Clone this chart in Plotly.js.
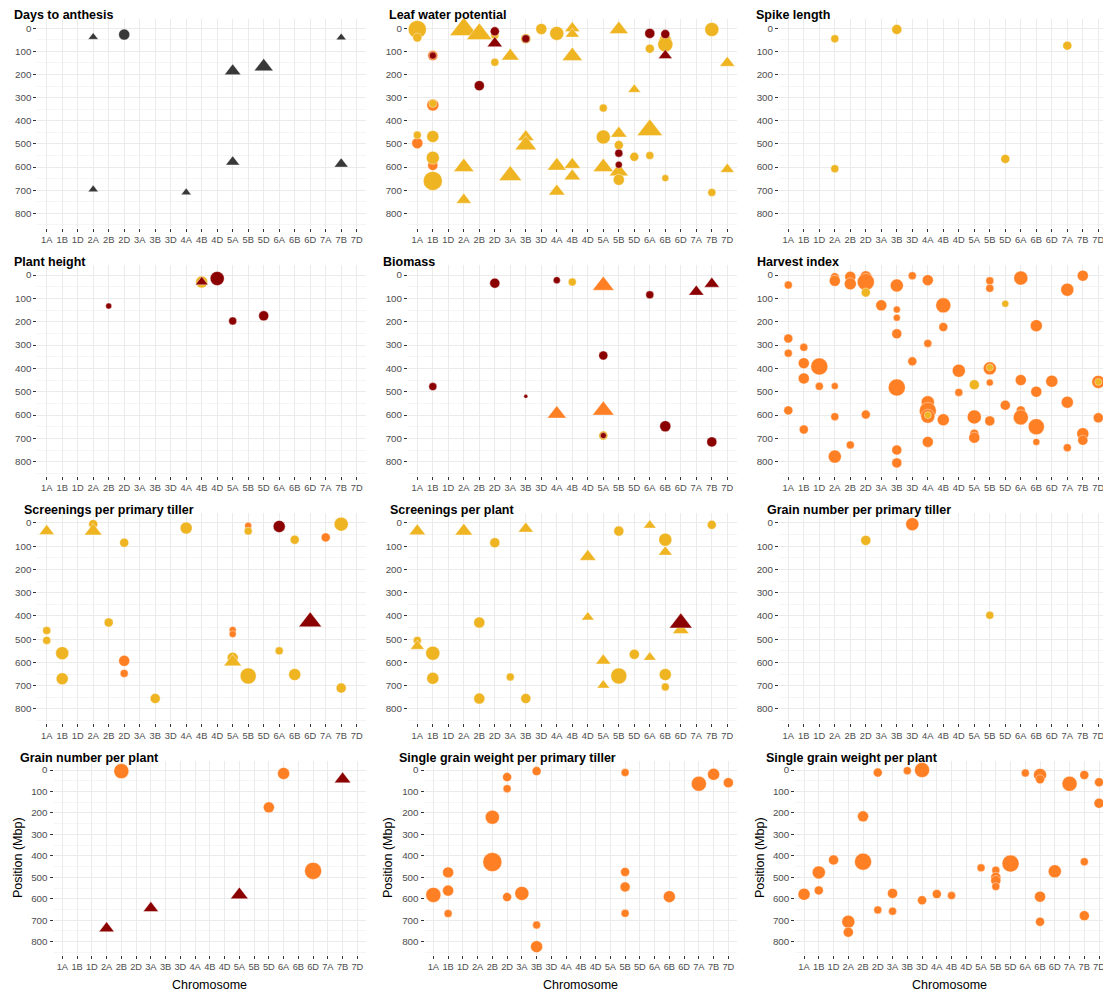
<!DOCTYPE html>
<html><head><meta charset="utf-8">
<script src="https://cdn.plot.ly/plotly-3.0.1.min.js"></script>
<style>html,body{margin:0;padding:0;background:#fff}#chart{width:1103px;height:991px}</style>
</head><body><div id="chart"></div>
<script>
// ---------- DATA ----------
const chromosomes = ['1A','1B','1D','2A','2B','2D','3A','3B','3D','4A','4B','4D','5A','5B','5D','6A','6B','6D','7A','7B','7D'];
const yTickValues = [0,100,200,300,400,500,600,700,800];
const panelTitles = ['Days to anthesis','Leaf water potential','Spike length','Plant height','Biomass','Harvest index',
  'Screenings per primary tiller','Screenings per plant','Grain number per primary tiller',
  'Grain number per plant','Single grain weight per primary tiller','Single grain weight per plant'];
const xAxisTitle = 'Chromosome';
const yAxisTitle = 'Position (Mbp)';
// record: [chromosome, position (Mbp), score, group, type]   group: G/Y/O/R, type: c = circle, t = triangle
const daysToAnthesis = [
 ['2A',38,8,'G','t'],['2D',27,11,'G','c'],['7B',40,8,'G','t'],['5A',185,13,'G','t'],['5D',166,15,'G','t'],
 ['5A',578,11,'G','t'],['7B',587,11,'G','t'],['2A',697,8,'G','t'],['4A',710,8,'G','t']];
const leafWaterPotential = [
 ['1A',5,18,'Y','c'],['1A',40,9,'Y','c'],['1A',462,8,'Y','c'],['1A',497,11,'O','c'],
 ['1B',118,10,'O','c'],['1B',118,7,'R','c'],['1B',332,12,'O','c'],['1B',325,8,'Y','c'],['1B',468,12,'Y','c'],
 ['1B',560,13,'Y','c'],['1B',593,10,'O','c'],['1B',660,19,'Y','c'],
 ['2A',5,22,'Y','t'],['2A',600,16,'Y','t'],['2A',742,12,'Y','t'],
 ['2B',25,20,'Y','t'],['2B',248,10,'R','c'],
 ['2D',30,8,'Y','c'],['2D',13,9,'R','c'],['2D',65,12,'R','t'],['2D',147,8,'Y','c'],
 ['3A',120,14,'Y','t'],['3A',637,18,'Y','t'],
 ['3B',45,10,'Y','c'],['3B',45,8,'R','c'],['3B',470,13,'Y','t'],['3B',505,17,'Y','t'],
 ['3D',3,11,'Y','c'],
 ['4A',22,14,'Y','c'],['4A',595,15,'Y','t'],['4A',705,13,'Y','t'],
 ['4B',0,12,'Y','t'],['4B',25,11,'Y','t'],['4B',120,16,'Y','t'],['4B',590,13,'Y','t'],['4B',640,13,'Y','t'],
 ['5A',345,8,'Y','c'],['5A',470,14,'Y','c'],['5A',600,16,'Y','t'],
 ['5B',5,15,'Y','t'],['5B',455,13,'Y','t'],['5B',505,9,'Y','c'],['5B',540,8,'R','c'],['5B',590,7,'R','c'],
 ['5B',620,15,'Y','t'],['5B',655,11,'Y','c'],
 ['5D',265,10,'Y','t'],['5D',556,9,'Y','c'],
 ['6A',22,10,'R','c'],['6A',88,9,'Y','c'],['6A',440,20,'Y','t'],['6A',550,8,'Y','c'],
 ['6B',50,12,'Y','c'],['6B',70,15,'Y','c'],['6B',25,9,'R','c'],['6B',118,11,'R','t'],['6B',648,7,'Y','c'],
 ['7B',5,14,'Y','c'],['7B',710,8,'Y','c'],
 ['7D',150,12,'Y','t'],['7D',610,11,'Y','t']];
const spikeLength = [
 ['2A',45,8,'Y','c'],['2A',607,8,'Y','c'],['3B',5,10,'Y','c'],['5D',565,9,'Y','c'],['7A',75,9,'Y','c']];
const plantHeight = [
 ['2B',133,6,'R','c'],['4B',30,12,'Y','c'],['4B',30,10,'R','t'],['4D',15,14,'R','c'],['5A',197,8,'R','c'],['5D',175,10,'R','c']];
const biomass = [
 ['1B',478,8,'R','c'],['2D',35,10,'R','c'],['3B',520,4,'R','c'],['4A',22,7,'R','c'],['4A',595,15,'O','t'],
 ['4B',30,8,'Y','c'],['5A',45,17,'O','t'],['5A',345,9,'R','c'],['5A',580,17,'O','t'],['5A',688,9,'Y','c'],
 ['5A',688,6,'R','c'],['6A',85,8,'R','c'],['6B',648,11,'R','c'],['7A',72,12,'R','t'],['7B',38,12,'R','t'],['7B',715,10,'R','c']];
const harvestIndex = [
 ['1A',43,8,'O','c'],['1A',272,9,'O','c'],['1A',335,8,'O','c'],['1A',580,9,'O','c'],
 ['1B',310,8,'O','c'],['1B',378,11,'O','c'],['1B',443,11,'O','c'],['1B',662,9,'O','c'],
 ['1D',392,17,'O','c'],['1D',477,8,'O','c'],
 ['2A',10,9,'O','c'],['2A',25,11,'O','c'],['2A',476,7,'O','c'],['2A',607,8,'O','c'],['2A',778,13,'O','c'],
 ['2B',8,11,'O','c'],['2B',38,12,'O','c'],['2B',728,8,'O','c'],
 ['2D',8,12,'O','c'],['2D',30,17,'O','c'],['2D',75,9,'Y','c'],['2D',598,9,'O','c'],
 ['3A',130,11,'O','c'],
 ['3B',45,13,'O','c'],['3B',148,7,'O','c'],['3B',183,7,'O','c'],['3B',252,10,'O','c'],['3B',482,17,'O','c'],
 ['3B',750,10,'O','c'],['3B',805,10,'O','c'],
 ['3D',3,8,'O','c'],['3D',370,9,'O','c'],
 ['4A',22,11,'O','c'],['4A',293,8,'O','c'],['4A',545,13,'O','c'],['4A',582,17,'O','c'],['4A',605,14,'O','c'],
 ['4A',600,7,'Y','c'],['4A',715,11,'O','c'],
 ['4B',130,15,'O','c'],['4B',223,9,'O','c'],['4B',620,12,'O','c'],
 ['4D',410,13,'O','c'],['4D',503,8,'O','c'],
 ['5A',470,10,'Y','c'],['5A',608,14,'O','c'],['5A',680,9,'O','c'],['5A',697,11,'O','c'],
 ['5B',25,8,'O','c'],['5B',57,8,'O','c'],['5B',400,13,'O','c'],['5B',396,7,'Y','c'],['5B',461,7,'O','c'],['5B',625,10,'O','c'],
 ['5D',123,7,'Y','c'],['5D',558,10,'O','c'],
 ['6A',13,14,'O','c'],['6A',450,11,'O','c'],['6A',580,9,'O','c'],['6A',610,15,'O','c'],
 ['6B',217,12,'O','c'],['6B',500,11,'O','c'],['6B',650,16,'O','c'],['6B',715,7,'O','c'],
 ['6D',455,12,'O','c'],
 ['7A',63,13,'O','c'],['7A',545,12,'O','c'],['7A',740,8,'O','c'],
 ['7B',3,11,'O','c'],['7B',680,12,'O','c'],['7B',708,10,'O','c'],
 ['7D',458,13,'O','c'],['7D',458,7,'Y','c'],['7D',612,10,'O','c']];
const screeningsPerPrimaryTiller = [
 ['1A',35,12,'Y','t'],['1A',463,8,'Y','c'],['1A',505,8,'Y','c'],
 ['1B',560,13,'Y','c'],['1B',670,12,'Y','c'],
 ['2A',5,9,'Y','c'],['2A',35,14,'Y','t'],
 ['2B',428,9,'Y','c'],
 ['2D',85,9,'Y','c'],['2D',593,11,'O','c'],['2D',647,8,'O','c'],
 ['3B',755,10,'Y','c'],
 ['4A',22,12,'Y','c'],
 ['5A',460,7,'O','c'],['5A',478,7,'O','c'],['5A',580,11,'Y','c'],['5A',598,14,'Y','t'],
 ['5B',12,7,'O','c'],['5B',35,8,'Y','c'],['5B',658,16,'Y','c'],
 ['6A',15,12,'R','c'],['6A',550,8,'Y','c'],
 ['6B',72,9,'Y','c'],['6B',652,12,'Y','c'],
 ['6D',425,18,'R','t'],
 ['7A',62,9,'O','c'],
 ['7B',5,14,'Y','c'],['7B',710,10,'Y','c']];
const screeningsPerPlant = [
 ['1A',35,13,'Y','t'],['1A',505,8,'Y','c'],['1A',530,11,'Y','t'],
 ['1B',560,14,'Y','c'],['1B',668,12,'Y','c'],
 ['2A',35,14,'Y','t'],
 ['2B',428,11,'Y','c'],['2B',755,11,'Y','c'],
 ['2D',85,10,'Y','c'],
 ['3A',662,8,'Y','c'],
 ['3B',25,12,'Y','t'],['3B',755,10,'Y','c'],
 ['4D',145,13,'Y','t'],['4D',405,10,'Y','t'],
 ['5A',592,12,'Y','t'],['5A',698,10,'Y','t'],
 ['5B',35,10,'Y','c'],['5B',658,16,'Y','c'],
 ['5D',565,10,'Y','c'],
 ['6A',10,10,'Y','t'],['6A',578,10,'Y','t'],
 ['6B',72,13,'Y','c'],['6B',125,11,'Y','t'],['6B',652,12,'Y','c'],['6B',705,8,'Y','c'],
 ['6D',460,13,'Y','t'],['6D',430,18,'R','t'],
 ['7B',8,9,'Y','c']];
const grainNumberPerPrimaryTiller = [
 ['2D',75,10,'Y','c'],['3D',5,13,'O','c'],['5B',397,8,'Y','c']];
const grainNumberPerPlant = [
 ['2A',738,12,'R','t'],['2B',5,15,'O','c'],['3A',644,12,'R','t'],['5A',582,14,'R','t'],
 ['5D',174,11,'O','c'],['6A',16,12,'O','c'],['6D',470,17,'O','c'],['7B',43,13,'R','t']];
const singleGrainWeightPerPrimaryTiller = [
 ['1A',582,15,'O','c'],
 ['1B',477,11,'O','c'],['1B',562,11,'O','c'],['1B',669,8,'O','c'],
 ['2B',220,14,'O','c'],['2B',429,19,'O','c'],
 ['2D',33,9,'O','c'],['2D',87,8,'O','c'],['2D',592,9,'O','c'],
 ['3A',575,14,'O','c'],
 ['3B',5,9,'O','c'],['3B',722,8,'O','c'],['3B',823,12,'O','c'],
 ['5B',12,8,'O','c'],['5B',475,9,'O','c'],['5B',545,10,'O','c'],['5B',668,8,'O','c'],
 ['6B',590,12,'O','c'],
 ['7A',64,15,'O','c'],['7B',20,12,'O','c'],['7D',59,10,'O','c']];
const singleGrainWeightPerPlant = [
 ['1A',579,12,'O','c'],
 ['1B',477,13,'O','c'],['1B',561,9,'O','c'],
 ['1D',419,10,'O','c'],
 ['2A',707,13,'O','c'],['2A',756,10,'O','c'],
 ['2B',216,11,'O','c'],['2B',427,17,'O','c'],
 ['2D',12,9,'O','c'],['2D',652,8,'O','c'],
 ['3A',575,10,'O','c'],['3A',658,8,'O','c'],
 ['3B',3,8,'O','c'],
 ['3D',0,15,'O','c'],['3D',607,9,'O','c'],
 ['4A',578,9,'O','c'],['4B',585,8,'O','c'],['5A',456,8,'O','c'],
 ['5B',467,8,'O','c'],['5B',500,10,'O','c'],['5B',515,10,'O','c'],['5B',543,8,'O','c'],
 ['5D',436,17,'O','c'],
 ['6A',14,8,'O','c'],
 ['6B',23,13,'O','c'],['6B',43,9,'O','c'],['6B',590,11,'O','c'],['6B',707,9,'O','c'],
 ['6D',472,13,'O','c'],
 ['7A',64,15,'O','c'],
 ['7B',23,9,'O','c'],['7B',427,8,'O','c'],['7B',679,10,'O','c'],
 ['7D',57,9,'O','c'],['7D',155,10,'O','c']];
const panelData = [daysToAnthesis, leafWaterPotential, spikeLength, plantHeight, biomass, harvestIndex,
  screeningsPerPrimaryTiller, screeningsPerPlant, grainNumberPerPrimaryTiller,
  grainNumberPerPlant, singleGrainWeightPerPrimaryTiller, singleGrainWeightPerPlant];

// ---------- STYLE / LAYOUT ----------
const W = 1103, H = 991;
const groupColor = {G:'#383838', Y:'#EEB422', O:'#FF7F24', R:'#8B0000'};
const groupOrder = {O:0, Y:1, R:2, G:3};
const FONT = 'Liberation Sans, Arial, sans-serif';
const colPx = [[37.4,366.0],[408.0,736.6],[779.0,1103]];
const colPxLast = [[53.5,366.2],[424.5,737.2],[795.2,1103]];
const rowPx = [[18.6,227.6],[265.2,476.2],[513.2,723.4],[761.0,955.0]];
const titlePx = [[12,15],[387,15],[754,15],[12,262],[381,262],[755,262],[22,510],[388,510],[765,510],[18,758],[397,758],[764,758]];

const traces = [], layout = {
  width: W, height: H, margin:{l:0,r:0,t:0,b:0}, showlegend:false,
  paper_bgcolor:'#fff', plot_bgcolor:'#fff', font:{family:FONT},
  annotations: [], shapes: []
};

panelData.forEach((rows, i) => {
  const r = Math.floor(i/3), c = i%3;
  const xp = r === 3 ? colPxLast[c] : colPx[c];
  const yp = rowPx[r];
  const unitPx = r === 3 ? 14.75 : 15.5;
  const xHi = -0.6 + (xp[1]-xp[0])/unitPx;
  const sfx = i === 0 ? '' : String(i+1);
  const sorted = rows.slice().sort((a,b) => groupOrder[a[3]] - groupOrder[b[3]]);
  traces.push({
    type:'scatter', mode:'markers', xaxis:'x'+sfx, yaxis:'y'+sfx,
    x: sorted.map(d => chromosomes.indexOf(d[0])),
    y: sorted.map(d => d[1]),
    hoverinfo:'skip',
    marker:{
      size: sorted.map(d => d[4]==='t' ? d[2]*1.1 : d[2]),
      color: sorted.map(d => groupColor[d[3]]),
      symbol: sorted.map(d => d[4]==='t' ? 'triangle-up' : 'circle'),
      opacity:1,
      line:{color:'rgba(255,255,255,0.8)', width:0.5}
    }
  });
  layout['xaxis'+sfx] = {
    domain:[xp[0]/W, Math.min(1, xp[1]/W)], range:[-0.6, xHi], anchor:'y'+sfx,
    tickmode:'array', tickvals: chromosomes.map((_,k)=>k), ticktext: chromosomes,
    showgrid:true, gridcolor:'#EBEBEB', gridwidth:1, zeroline:false, showline:false,
    ticks:'outside', ticklen:3, tickwidth:1, tickcolor:'#333',
    ticklabeloverflow:'allow',
    tickfont:{size:9.3, color:'#4D4D4D', family:FONT}, fixedrange:true
  };
  layout['yaxis'+sfx] = {
    domain:[1 - yp[1]/H, 1 - yp[0]/H], range:[862,-42], anchor:'x'+sfx,
    tickmode:'array', tickvals: yTickValues, ticktext: yTickValues.map(String),
    showgrid:true, gridcolor:'#EBEBEB', gridwidth:1, zeroline:false, showline:false,
    minor:{tickmode:'array', tickvals:[50,150,250,350,450,550,650,750,850], showgrid:true, gridcolor:'#F3F3F3', gridwidth:0.8, ticks:''},
    ticks:'outside', ticklen:3, tickwidth:1, tickcolor:'#333',
    tickfont:{size:9.8, color:'#4D4D4D', family:FONT}, fixedrange:true
  };
  layout.annotations.push({
    xref:'paper', yref:'paper', x: titlePx[i][0]/W, y: 1 - titlePx[i][1]/H,
    xanchor:'left', yanchor:'middle', showarrow:false,
    text:'<b>'+panelTitles[i]+'</b>', font:{size:12.5, color:'#000', family:FONT}
  });
  if (r === 3) {
    layout.annotations.push({
      xref:'paper', yref:'paper', x: (xp[0]+Math.min(xp[1],1103))/2/W, y: 1 - 985/H,
      xanchor:'center', yanchor:'middle', showarrow:false,
      text:xAxisTitle, font:{size:12.5, color:'#000', family:FONT}
    });
    const yx = [18, 388, 760][c];
    layout.annotations.push({
      xref:'paper', yref:'paper', x: yx/W, y: 1 - 858/H, textangle:-90,
      xanchor:'center', yanchor:'middle', showarrow:false,
      text:yAxisTitle, font:{size:12.5, color:'#000', family:FONT}
    });
  }
});

Plotly.newPlot('chart', traces, layout, {staticPlot:true, displayModeBar:false});
</script></body></html>
